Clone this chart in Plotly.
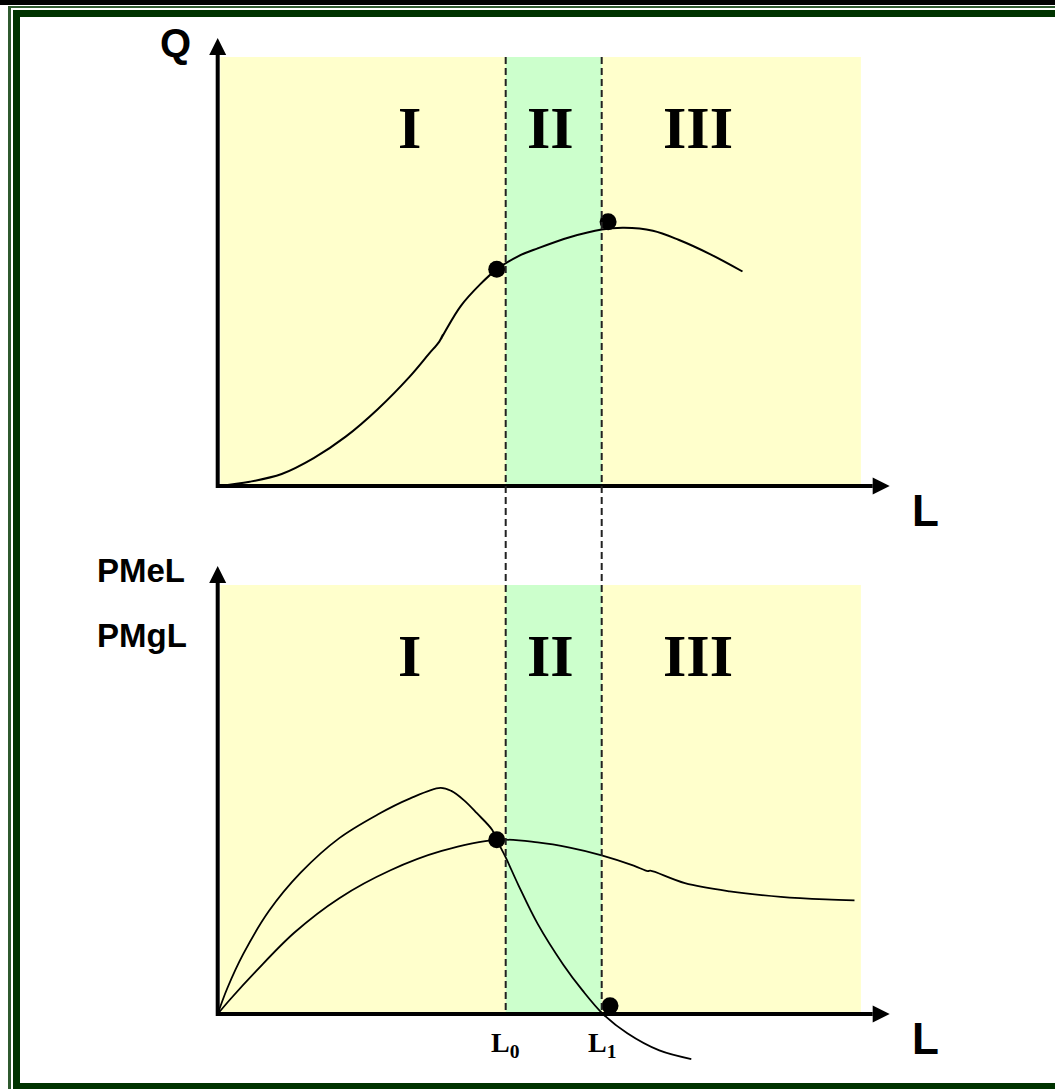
import plotly.graph_objects as go

# ---------------------------------------------------------------- data
# Total product curve (upper panel): labour L vs output Q
q_L = [0.0, 0.5, 1.0, 1.5, 2.0, 2.5, 3.0, 3.3, 3.46, 3.52, 3.49, 3.56, 3.8, 4.1, 4.36,
       4.7, 5.0, 5.5, 6.0, 6.35, 6.8, 7.2, 7.7, 8.2]
q_Q = [0.0, 1.0, 2.8, 6.5, 11.5, 17.9, 25.5, 30.8, 33.6, 35.3, 34.3, 36.2, 42.0, 47.0, 50.5,
       53.6, 55.4, 58.0, 59.8, 60.2, 59.5, 57.4, 54.0, 50.0]

# Marginal product of labour (lower panel)
pmg_L = [0.0, 0.15, 0.4, 0.8, 1.3, 1.9, 2.5, 3.0, 3.48, 3.65, 3.85, 4.05, 4.29, 4.36, 4.5,
         4.7, 5.0, 5.4, 5.7, 6.02, 6.4, 6.9, 7.4]
pmg_V = [0.0, 6.0, 14.0, 24.0, 33.0, 41.0, 46.5, 50.2, 52.7, 52.0, 49.8, 46.8, 42.9, 40.6, 36.5,
         30.0, 21.0, 11.5, 5.5, 0.0, -4.5, -8.5, -10.5]

# Average product of labour (lower panel)
pme_L = [0.0, 0.2, 0.6, 1.2, 1.9, 2.7, 3.5, 4.36, 5.0, 5.5, 6.0, 6.5, 6.72, 6.76, 7.3,
         8.0, 8.8, 9.5, 9.95]
pme_V = [0.0, 3.5, 10.0, 19.0, 27.0, 33.5, 38.0, 40.6, 40.0, 38.8, 37.0, 34.6, 33.3, 33.4, 30.5,
         28.6, 27.3, 26.7, 26.5]

# Highlighted points
q_dots_L = [4.36, 6.1]
q_dots_Q = [50.5, 61.6]
p_dots_L = [4.36, 6.13]
p_dots_V = [40.6, 1.9]

# Stage boundaries and labels
L0, L1 = 4.5, 6.0
L_END = 10.05          # right edge of the shaded stages
Y_TOP = 100.0          # top of the shaded stages
stage_names = ["I", "II", "III"]
stage_label_L = [3.0, 5.2, 7.5]
boundary_labels = ["L<sub>0</sub>", "L<sub>1</sub>"]

# ---------------------------------------------------------------- geometry
W, H = 1055, 1089
X0_PX = 217.7          # pixel column of L = 0
PX_PER_L = 64.0
Y0_TOP_PX = 486.0      # pixel row of Q = 0 (upper panel)
Y0_BOT_PX = 1014.0     # pixel row of 0 (lower panel)
PX_PER_V = 4.29

YELLOW = "#FFFFCC"
GREEN = "#CCFFCC"
FRAME = "#003300"


def px_x(px):
    return px / W


def px_y(py):
    return 1 - py / H


def v_to_py(v, panel):
    base = Y0_TOP_PX if panel == "top" else Y0_BOT_PX
    return base - v * PX_PER_V


fig = go.Figure()

shapes = []

# page frame
shapes += [
    dict(type="rect", xref="paper", yref="paper", x0=0, x1=1, y0=px_y(0), y1=px_y(5),
         fillcolor="black", line_width=0, layer="below"),
    dict(type="rect", xref="paper", yref="paper", x0=px_x(8), x1=1, y0=px_y(6), y1=px_y(8),
         fillcolor="#2f5a2f", line_width=0, layer="below"),
    dict(type="rect", xref="paper", yref="paper", x0=px_x(13), x1=1, y0=px_y(10), y1=px_y(17),
         fillcolor=FRAME, line_width=0, layer="below"),
    dict(type="rect", xref="paper", yref="paper", x0=px_x(8), x1=px_x(11), y0=0, y1=px_y(6),
         fillcolor="#2f5a2f", line_width=0, layer="below"),
    dict(type="rect", xref="paper", yref="paper", x0=px_x(13), x1=px_x(20), y0=0, y1=px_y(10),
         fillcolor=FRAME, line_width=0, layer="below"),
    dict(type="rect", xref="paper", yref="paper", x0=px_x(13), x1=1, y0=0, y1=px_y(1083),
         fillcolor=FRAME, line_width=0, layer="below"),
]

# shaded stages in both panels
for yref in ("y", "y2"):
    shapes += [
        dict(type="rect", xref="x", yref=yref, x0=0.04, x1=L_END, y0=0, y1=Y_TOP,
             fillcolor=YELLOW, line_width=0, layer="below"),
        dict(type="rect", xref="x", yref=yref, x0=L0, x1=L1, y0=0, y1=Y_TOP,
             fillcolor=GREEN, line_width=0, layer="below"),
    ]

# stage boundaries running through both panels
for lv in (L0, L1):
    y_from = px_y(v_to_py(Y_TOP, "top"))
    y_to = px_y(Y0_BOT_PX)
    shapes.append(dict(type="line", xref="x", yref="paper", x0=lv, x1=lv, y0=y_from, y1=y_to,
                       line=dict(color="white", width=6), layer="below"))
    shapes.append(dict(type="line", xref="x", yref="paper", x0=lv, x1=lv, y0=y_from, y1=y_to,
                       line=dict(color="#222222", width=2, dash="7px,4px"), layer="above"))

fig.update_layout(shapes=shapes)

# curves
fig.add_trace(go.Scatter(x=q_L, y=q_Q, mode="lines", line=dict(color="black", width=2),
                         line_shape="spline", xaxis="x", yaxis="y", hoverinfo="skip"))
fig.add_trace(go.Scatter(x=pmg_L, y=pmg_V, mode="lines", line=dict(color="black", width=1.8),
                         line_shape="spline", xaxis="x", yaxis="y2", hoverinfo="skip"))
fig.add_trace(go.Scatter(x=pme_L, y=pme_V, mode="lines", line=dict(color="black", width=1.8),
                         line_shape="spline", xaxis="x", yaxis="y2", hoverinfo="skip"))
fig.add_trace(go.Scatter(x=q_dots_L, y=q_dots_Q, mode="markers",
                         marker=dict(color="black", size=17), xaxis="x", yaxis="y"))
fig.add_trace(go.Scatter(x=p_dots_L, y=p_dots_V, mode="markers",
                         marker=dict(color="black", size=17), xaxis="x", yaxis="y2"))

# axes with arrow heads
AX_W = 4
Y_TIP = 104.4          # vertical axis tip (value units)
X_TIP = 10.5           # horizontal axis tip (L units)
HEAD_LEN_PX, HEAD_HALF_PX = 17, 8.5
for yname in ("y", "y2"):
    fig.add_trace(go.Scatter(x=[0, 0, X_TIP - HEAD_LEN_PX / PX_PER_L],
                             y=[Y_TIP - HEAD_LEN_PX / PX_PER_V, 0, 0],
                             mode="lines", line=dict(color="black", width=AX_W),
                             xaxis="x", yaxis=yname, hoverinfo="skip"))
    hx = HEAD_HALF_PX / PX_PER_L
    hy = HEAD_HALF_PX / PX_PER_V
    fig.add_trace(go.Scatter(x=[-hx, hx, 0, -hx],
                             y=[Y_TIP - HEAD_LEN_PX / PX_PER_V] * 2 + [Y_TIP, Y_TIP - HEAD_LEN_PX / PX_PER_V],
                             mode="lines", fill="toself", fillcolor="black", line=dict(width=0),
                             xaxis="x", yaxis=yname, hoverinfo="skip"))
    bx = X_TIP - HEAD_LEN_PX / PX_PER_L
    fig.add_trace(go.Scatter(x=[bx, bx, X_TIP, bx], y=[-hy, hy, 0, -hy],
                             mode="lines", fill="toself", fillcolor="black", line=dict(width=0),
                             xaxis="x", yaxis=yname, hoverinfo="skip"))

# text (explicit anchors so positions are the glyph centres)
ann = []
sans = "Liberation Sans"
serif = "Liberation Serif"


def label(text, x, y, size, family, xref="paper", xanchor="center"):
    return dict(text=text, x=x, y=y, xref=xref, yref="paper", showarrow=False,
                xanchor=xanchor, yanchor="middle",
                font=dict(family=family, size=size, color="black", weight="bold"))


ann.append(label("Q", px_x(175), px_y(43), 40, sans))
for panel in ("top", "bot"):
    ann.append(label("L", px_x(925), px_y(v_to_py(0, panel) + 24), 44, sans))
    for name, lx in zip(stage_names, stage_label_L):
        ann.append(label(name, lx, px_y(v_to_py(0, panel) - 358), 60, serif, xref="x"))
ann.append(label("PMeL", px_x(95), px_y(570), 33, sans, xanchor="left"))
ann.append(label("PMgL", px_x(95), px_y(635), 33, sans, xanchor="left"))
for txt, lv in zip(boundary_labels, (L0, L1)):
    ann.append(label(txt, lv, px_y(Y0_BOT_PX + 30), 28, serif, xref="x"))

fig.update_layout(
    annotations=ann,
    width=W, height=H,
    margin=dict(l=0, r=0, t=0, b=0),
    paper_bgcolor="white", plot_bgcolor="white",
    showlegend=False,
    xaxis=dict(range=[-X0_PX / PX_PER_L, (W - X0_PX) / PX_PER_L], domain=[0, 1], visible=False,
               fixedrange=True),
    yaxis=dict(range=[-(H - Y0_TOP_PX) / PX_PER_V, Y0_TOP_PX / PX_PER_V], domain=[0, 1],
               visible=False, fixedrange=True),
    yaxis2=dict(range=[-(H - Y0_BOT_PX) / PX_PER_V, Y0_BOT_PX / PX_PER_V], domain=[0, 1],
                overlaying="y", visible=False, fixedrange=True),
)

fig.write_html("out.html", config={"displayModeBar": False})
